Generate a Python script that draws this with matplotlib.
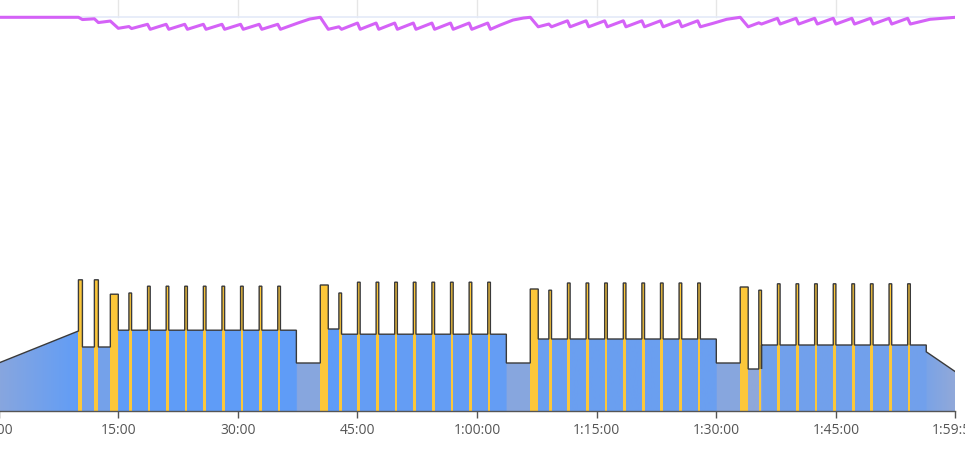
import numpy as np
import matplotlib
matplotlib.use("Agg")
import matplotlib.pyplot as plt
from matplotlib.patches import Polygon
from matplotlib.colors import to_rgb

# ---------------- data (time in minutes, power in watts) ----------------
base_t = [0, 10, 10, 15, 15, 37.333, 37.333, 40.333, 40.333, 42.667, 42.667,
          63.667, 63.667, 66.667, 66.667, 90, 90, 93, 93, 95.667, 95.667,
          116.333, 116.333, 120]
base_w = [120, 200, 160, 160, 202, 202, 120, 120, 205, 205, 192,
          192, 120, 120, 180, 180, 120, 120, 105, 105, 165,
          165, 148, 98]

spike_start = [10, 12, 14, 16.333, 18.667, 21, 23.333, 25.667, 28, 30.333, 32.667, 35,
               40.333, 42.667, 45, 47.333, 49.667, 52, 54.333, 56.667, 59, 61.333,
               66.667, 69, 71.333, 73.667, 76, 78.333, 80.667, 83, 85.333, 87.667,
               93, 95.333, 97.667, 100, 102.333, 104.667, 107, 109.333, 111.667, 114]
spike_dur = [0.5, 0.5, 1, 0.333, 0.333, 0.333, 0.333, 0.333, 0.333, 0.333, 0.333, 0.333,
             1, 0.333, 0.333, 0.333, 0.333, 0.333, 0.333, 0.333, 0.333, 0.333,
             1, 0.333, 0.333, 0.333, 0.333, 0.333, 0.333, 0.333, 0.333, 0.333,
             1, 0.333, 0.333, 0.333, 0.333, 0.333, 0.333, 0.333, 0.333, 0.333]
spike_w = [328, 328, 292, 295, 312, 312, 312, 312, 312, 312, 312, 312,
           315, 295, 322, 322, 322, 322, 322, 322, 322, 322,
           305, 302, 320, 320, 320, 320, 320, 320, 320, 320,
           310, 302, 318, 318, 318, 318, 318, 318, 318, 318]

# W' balance (kJ)
wbal_t = [0, 10, 10.5, 12, 12.5, 14, 15, 16.333, 16.667,
          18.667, 19, 21, 21.333, 23.333, 23.667, 25.667, 26, 28, 28.333,
          30.333, 30.667, 32.667, 33, 35, 35.333, 37.6, 39, 40.333,
          41.333, 42.667, 43, 45, 45.333, 47.333, 47.667, 49.667, 50, 52, 52.333,
          54.333, 54.667, 56.667, 57, 59, 59.333, 61.333, 61.667, 62.9, 64.5, 65.8, 66.667,
          67.667, 69, 69.333, 71.333, 71.667, 73.667, 74, 76, 76.333, 78.333, 78.667,
          80.667, 81, 83, 83.333, 85.333, 85.667, 87.667, 88, 89.6, 91.3, 93,
          94, 95.333, 95.667, 97.667, 98, 100, 100.333, 102.333, 102.667, 104.667, 105,
          107, 107.333, 109.333, 109.667, 111.667, 112, 114, 114.333, 116.8, 120]
wbal_kj = [20, 20, 19.1, 19.4, 17.9, 18.5, 15.6, 16.3, 15.5,
           17.2, 15.2, 17.2, 15.2, 17.2, 15.2, 17.2, 15.2, 17.2, 15.2,
           17.2, 15.2, 17.2, 15.2, 17.2, 15.2, 17.8, 19.3, 20,
           15.2, 16.2, 15.2, 17.7, 15.2, 17.7, 15.2, 17.7, 15.2, 17.7, 15.2,
           17.7, 15.2, 17.7, 15.2, 17.7, 15.2, 17.7, 15.2, 16.9, 18.9, 19.7, 20,
           16.2, 17.3, 16.2, 18.6, 16.2, 18.6, 16.2, 18.6, 16.2, 18.6, 16.2,
           18.6, 16.2, 18.6, 16.2, 18.6, 16.2, 18.6, 16.2, 17.6, 19.2, 20,
           16.2, 17.8, 17.3, 19.6, 17.3, 19.6, 17.3, 19.6, 17.3, 19.6, 17.3,
           19.6, 17.3, 19.6, 17.3, 19.6, 17.3, 19.6, 17.3, 19.2, 20]

tick_min = [0, 15, 30, 45, 60, 75, 90, 105, 119.98]
tick_lbl = ["0:00", "15:00", "30:00", "45:00", "1:00:00", "1:15:00", "1:30:00", "1:45:00", "1:59:59"]

# ---------------- figure ----------------
W, H, DPI = 965, 455, 100
fig = plt.figure(figsize=(W / DPI, H / DPI), dpi=DPI)
plt.rcParams['font.family'] = ['Open Sans', 'DejaVu Sans']

x0_px, x1_px = -1.3, 955.5
base_px = 411
ax = fig.add_axes([x0_px / W, (H - base_px) / H, (x1_px - x0_px) / W, base_px / H])
XMAX = 120
YMAX = base_px * 2.5
ax.set_xlim(0, XMAX)
ax.set_ylim(0, YMAX)
ax.patch.set_alpha(0)
for s in ['top', 'right', 'left']:
    ax.spines[s].set_visible(False)
ax.spines['bottom'].set_color('#555555')
ax.spines['bottom'].set_linewidth(1.0)
ax.set_yticks([])
ax.set_xticks(tick_min)
ax.set_xticklabels(tick_lbl)
ax.tick_params(axis='x', length=5, width=1.0, color='#555555', labelsize=10,
               labelcolor='#555555', pad=4)

bt = np.array(base_t, float)
bw = np.array(base_w, float)
st = np.array(spike_start, float)
sd = np.array(spike_dur, float)
sw = np.array(spike_w, float)


def base_val(t, side):
    # side -1: left limit, +1: right limit
    eps = 1e-7
    return np.interp(t + side * eps, bt, bw)


def prof_val(t, side):
    eps = 1e-7
    tt = t + side * eps
    for s, d, w in zip(st, sd, sw):
        if s < tt < s + d:
            return w
    return base_val(t, side)


bps = sorted(set(list(bt) + list(st) + list(st + sd)))
px, py = [], []
for t in bps:
    l = prof_val(t, -1) if t > 0 else prof_val(t, +1)
    r = prof_val(t, +1) if t < XMAX else prof_val(t, -1)
    px += [t, t]
    py += [l, r]

# colour gradient for base fill
lo = np.array(to_rgb('#8fa8da'))
hi = np.array(to_rgb('#5e9cf8'))
tg = np.linspace(0, XMAX, 2400)
pw = np.interp(tg, bt, bw)
f = np.clip((pw - 105) / (205 - 105), 0, 1)[:, None]
cols = lo * (1 - f) + hi * f
img = cols[None, :, :]
im = ax.imshow(img, extent=[0, XMAX, 0, YMAX], aspect='auto', origin='lower',
               interpolation='bilinear', zorder=1)
poly = Polygon(np.column_stack([[0] + px + [XMAX], [0] + py + [0]]), closed=True,
               transform=ax.transData, facecolor='none', edgecolor='none')
ax.add_patch(poly)
im.set_clip_path(poly)

# yellow intervals
ax.bar(st, sw, width=sd, align='edge', color='#fcc73a', edgecolor='none',
       linewidth=0, zorder=2)

# outline
ax.plot(px, py, color='#3a3a3a', lw=1.0, zorder=3, solid_joinstyle='miter')

# ---------------- W' balance panel ----------------
top_px = 45
axw = fig.add_axes([x0_px / W, (H - top_px) / H, (x1_px - x0_px) / W, top_px / H])
axw.set_xlim(0, XMAX)
vmax = 20 + 17.3 * 0.4
vmin = vmax - top_px * 0.4
axw.set_ylim(vmin, vmax)
axw.axis('off')
axw.patch.set_alpha(0)
for t in tick_min[1:-1]:
    axw.axvline(t, ymin=(top_px - 17.3) / top_px, ymax=1, color='#e6e6e6', lw=1.0, zorder=0)
axw.axhline(20, color='#e4eaf8', lw=1.2, zorder=0)
axw.plot(wbal_t, wbal_kj, color='#d462f7', lw=2.2, zorder=2, solid_joinstyle='round')

fig.savefig('out.png', dpi=DPI)
